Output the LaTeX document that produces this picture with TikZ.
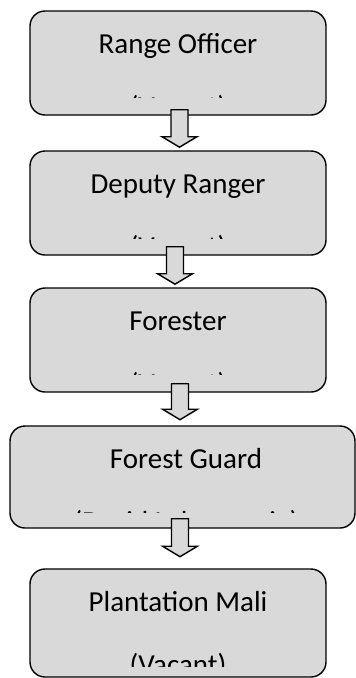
\documentclass[tikz,border=0pt]{standalone}
\usepackage{fontspec}
\setmainfont{Carlito}
\usepackage{tikz}
\usetikzlibrary{calc}

\definecolor{boxgray}{RGB}{217,217,217}
\tikzset{
  post/.style={draw=black, line width=1.4pt, fill=boxgray, rounded corners=15pt, inner sep=0pt},
  lbl/.style={inner sep=0pt, anchor=base, font=\fontsize{29}{34}\selectfont},
  blockarrow/.style={draw=black, line width=1.4pt, fill=boxgray, line join=miter}
}

\begin{document}
\begin{tikzpicture}[x=1pt, y=-1pt]
\useasboundingbox (0,0) rectangle (356,678);

% the five posts
\node[post, minimum width=296pt, minimum height=104pt] (ro) at (178,63) {};
\node[post, minimum width=296pt, minimum height=104pt] (dr) at (178,203) {};
\node[post, minimum width=296pt, minimum height=104pt] (fo) at (178,340) {};
\node[post, minimum width=345pt, minimum height=102pt] (fg) at (182.5,477) {};
\node[post, minimum width=296pt, minimum height=108pt] (pm) at (178,623) {};

\node[lbl] (ro-t) at ($(ro.north)+(0,43.5)$) {Range Officer};
\node[lbl] (dr-t) at ($(dr.north)+(0,43.5)$) {Deputy Ranger};
\node[lbl] (fo-t) at ($(fo.north)+(0,43.5)$) {Forester};
\node[lbl] (fg-t) at ($(fg.north)+(3.5,43.5)$) {Forest Guard};
\node[lbl] (pm-t) at ($(pm.north)+(0,43.5)$) {Plantation Mali};

% second lines, cut off inside the boxes
\begin{scope}
\clip (ro.north west) rectangle ($(ro.north east)+(0,87)$);
\node[lbl] (ro-s) at ($(ro.north)+(0,106.5)$) {(Vacant)};
\end{scope}
\begin{scope}
\clip (dr.north west) rectangle ($(dr.north east)+(0,88)$);
\node[lbl] (dr-s) at ($(dr.north)+(0,106.5)$) {(Vacant)};
\end{scope}
\begin{scope}
\clip (fo.north west) rectangle ($(fo.north east)+(0,87)$);
\node[lbl] (fo-s) at ($(fo.north)+(0,106.5)$) {(Vacant)};
\end{scope}
\begin{scope}
\clip (fg.north west) rectangle ($(fg.north east)+(0,87)$);
\node[lbl] (fg-s) at ($(fg.north)+(3.5,106.5)$) {(David Lalremawia)};
\end{scope}
\begin{scope}
\clip (pm.north west) rectangle ($(pm.north east)+(0,98)$);
\node[lbl] (pm-s) at ($(pm.north)+(0,106.5)$) {(Vacant)};
\end{scope}

% block arrows between the posts
\coordinate (a1) at ($(ro.south)+(1.5,-6)$);
\coordinate (a2) at ($(dr.south)+(-3,-9)$);
\coordinate (a3) at ($(fo.south)+(2,-9)$);
\coordinate (a4) at ($(fg.south)+(-2.5,-10)$);

\draw[blockarrow] (a1) ++(-8.5,0) -- ++(0,27) -- ++(-9,0) -- ++(17.5,10.5)
  -- ++(17.5,-10.5) -- ++(-9,0) -- ++(0,-27) -- cycle;
\draw[blockarrow] (a2) ++(-8.5,0) -- ++(0,27) -- ++(-9,0) -- ++(17.5,10.5)
  -- ++(17.5,-10.5) -- ++(-9,0) -- ++(0,-27) -- cycle;
\draw[blockarrow] (a3) ++(-8.5,0) -- ++(0,25.5) -- ++(-9,0) -- ++(17.5,10.5)
  -- ++(17.5,-10.5) -- ++(-9,0) -- ++(0,-25.5) -- cycle;
\draw[blockarrow] (a4) ++(-8.5,0) -- ++(0,27.5) -- ++(-9,0) -- ++(17.5,10.5)
  -- ++(17.5,-10.5) -- ++(-9,0) -- ++(0,-27.5) -- cycle;
\end{tikzpicture}
\end{document}
